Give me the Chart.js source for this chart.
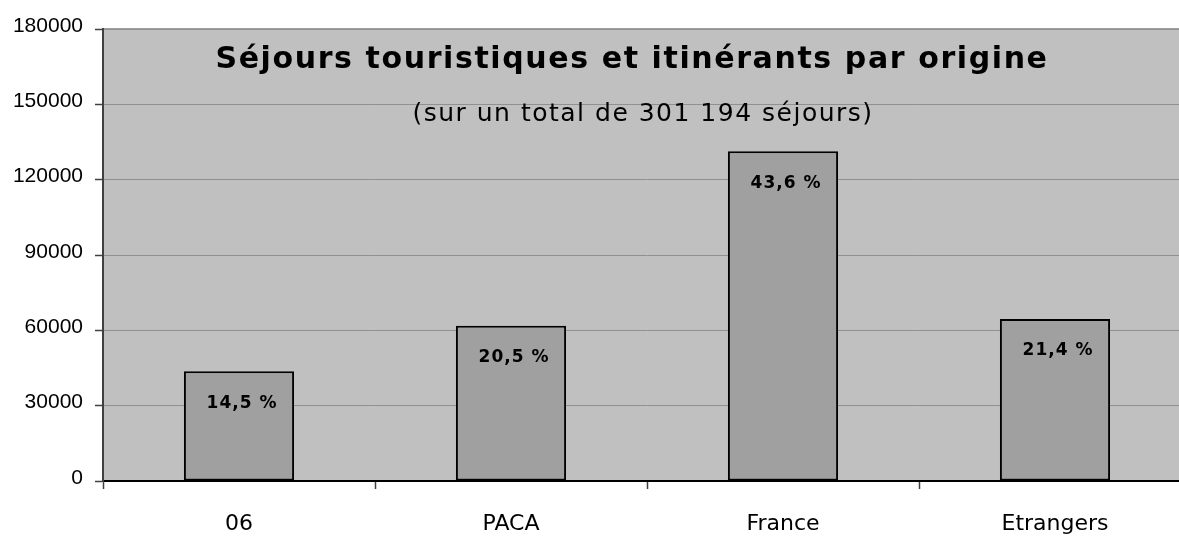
<!DOCTYPE html>
<html lang="fr">
<head>
<meta charset="utf-8">
<title>Séjours touristiques et itinérants par origine</title>
<script src="https://cdn.jsdelivr.net/npm/chart.js@4/dist/chart.umd.min.js"></script>
<style>
  html, body { margin: 0; padding: 0; background: #ffffff; overflow: hidden; }
  #wrap { position: relative; width: 1191px; height: 539px; }
</style>
</head>
<body>
<div id="wrap"><canvas id="origin-chart"></canvas></div>
<script>
"use strict"

// data
const origins = ["06", "PACA", "France", "Etrangers"]
const stays = [43700, 61800, 131300, 64500]
const shares = ["14,5 %", "20,5 %", "43,6 %", "21,4 %"]
const yTicks = [0, 30000, 60000, 90000, 120000, 150000, 180000]
const title = "Séjours touristiques et itinérants par origine"
const subtitle = "(sur un total de 301 194 séjours)"

const originCanvas = document.getElementById("origin-chart")

// grey plot area with a thin top border
const plotBackground = {
  id: "plotBackground",
  beforeDraw(chart) {
    const { ctx, chartArea } = chart
    ctx.save()
    ctx.fillStyle = "#c0c0c0"
    ctx.fillRect(chartArea.left, chartArea.top, chartArea.right - chartArea.left, chartArea.bottom - chartArea.top)
    ctx.strokeStyle = "#808080"
    ctx.lineWidth = 1.5
    ctx.beginPath()
    ctx.moveTo(chartArea.left, chartArea.top)
    ctx.lineTo(chartArea.right, chartArea.top)
    ctx.stroke()
    ctx.restore()
  },
}

// title and subtitle sit inside the plot area
const innerTitle = {
  id: "innerTitle",
  afterDraw(chart) {
    const { ctx, chartArea } = chart
    ctx.save()
    ctx.fillStyle = "#000000"
    ctx.textAlign = "center"
    ctx.textBaseline = "alphabetic"
    ctx.letterSpacing = "1.6px"
    ctx.font = "bold 30px 'DejaVu Sans'"
    ctx.fillText(title, 632, chartArea.top + 39)
    ctx.letterSpacing = "1.5px"
    ctx.font = "25px 'DejaVu Sans'"
    ctx.fillText(subtitle, 643, chartArea.top + 92)
    ctx.restore()
  },
}

// share labels inside each bar
const shareLabels = {
  id: "shareLabels",
  afterDatasetsDraw(chart) {
    const { ctx } = chart
    const meta = chart.getDatasetMeta(0)
    ctx.save()
    ctx.fillStyle = "#000000"
    ctx.textAlign = "center"
    ctx.textBaseline = "middle"
    ctx.letterSpacing = "1px"
    ctx.font = "bold 17px 'DejaVu Sans'"
    meta.data.forEach((bar, i) => {
      ctx.fillText(shares[i], bar.x + 3, bar.y + 32)
    })
    ctx.restore()
  },
}

const originData = {
  labels: origins,
  datasets: [
    {
      data: stays,
      backgroundColor: "#a0a0a0",
      borderColor: "#000000",
      borderWidth: 2,
      borderSkipped: false,
      categoryPercentage: 1,
      barPercentage: 0.405,
    },
  ],
}

const originOptions = {
  responsive: true,
  maintainAspectRatio: false,
  animation: {
    duration: 0,
  },
  layout: {
    padding: { top: 29, right: 0, bottom: 0, left: 0 },
  },
  scales: {
    x: {
      offset: true,
      grid: {
        offset: true,
        drawOnChartArea: false,
        drawTicks: true,
        tickLength: 8,
        tickColor: "#404040",
        tickWidth: 1.5,
      },
      border: {
        display: true,
        color: "#000000",
        width: 2,
      },
      ticks: {
        color: "#000000",
        padding: 22,
        font: { family: "'DejaVu Sans'", size: 22 },
        maxRotation: 0,
      },
      afterFit(scale) {
        scale.height = 58
      },
    },
    y: {
      min: 0,
      max: 180000,
      afterBuildTicks(scale) {
        scale.ticks = yTicks.map((v) => ({ value: v }))
      },
      grid: {
        color: "#909090",
        lineWidth: 1,
        drawTicks: true,
        tickLength: 8,
        tickColor: "#404040",
        tickWidth: 1.5,
      },
      border: {
        display: true,
        color: "#404040",
        width: 2,
      },
      ticks: {
        color: "#000000",
        padding: 12,
        labelOffset: -3,
        font: { family: "'Liberation Sans'", size: 21 },
        callback: (value) => String(value),
      },
      afterFit(scale) {
        scale.width = 103
      },
    },
  },
  plugins: {
    legend: { display: false },
    tooltip: { enabled: false },
    title: { display: false },
  },
}

let originChart = new Chart(originCanvas, {
  type: "bar",
  data: originData,
  options: originOptions,
  plugins: [plotBackground, innerTitle, shareLabels],
})
</script>
</body>
</html>
